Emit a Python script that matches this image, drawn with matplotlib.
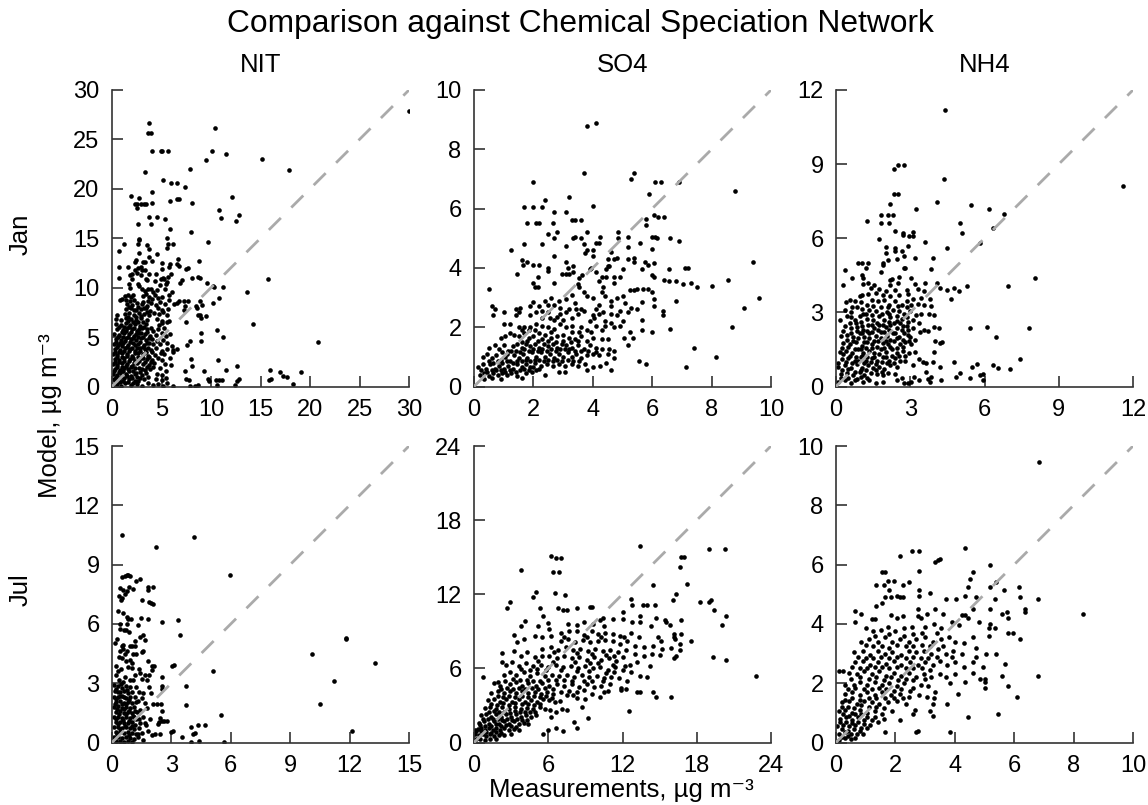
import numpy as np
import matplotlib
matplotlib.use('Agg')
from matplotlib import pyplot as plt

plt.rcParams['font.family'] = ['Liberation Sans', 'DejaVu Sans']

species = ['NIT', 'SO4', 'NH4']
months = ['Jan', 'Jul']
limits = [[30, 10, 12], [15, 24, 10]]
steps = [[5, 2, 3], [3, 6, 2]]

nit_jan = [(30.0,27.9),(3.7,26.7),(3.6,25.6),(3.9,25.6),(10.4,26.2),(4.0,23.8),(4.9,23.8),(5.1,23.8),(5.7,23.8),(10.1,23.8),(11.5,23.5),(9.5,22.9),(15.2,23.0),(17.9,21.9),
(3.3,21.7),(7.9,22.0),(5.2,20.9),(6.0,20.6),(6.6,20.6),(7.4,20.2),(4.0,19.7),(1.9,19.3),(2.7,19.1),(2.3,18.5),(2.5,18.5),(2.9,18.5),(3.2,18.5),(3.4,18.5),(2.5,18.1),(4.0,18.6),(5.9,18.8),(6.6,19.0),(6.8,19.0),(8.1,18.6),(12.1,19.2),(10.8,17.9),(12.8,17.4),(11.0,17.0),(12.5,16.7),(3.7,17.2),(4.5,17.2),(5.4,16.9),(2.6,16.4),(3.9,16.4),(5.9,15.9),(8.0,15.6),
(2.7,14.9),(5.6,15.0),(2.7,14.8),(1.2,14.4),(3.5,14.3),(5.7,14.4),(6.2,14.4),(2.6,14.4),(5.6,14.0),(9.7,14.6),(3.7,13.9),(0.7,13.7),(2.7,13.5),(4.5,13.4),(3.7,13.1),(6.7,12.9),(8.8,12.7),(2.4,12.8),(2.3,12.6),(3.1,12.6),(3.3,12.6),(4.0,12.7),(5.0,12.5),(5.9,12.4),(6.6,12.4),(6.8,12.2),(0.7,12.1),(1.6,12.1),(2.9,12.1),(2.6,12.0),(5.8,12.1),(5.0,11.9),(7.5,11.9),(7.7,12.0),
(3.3,11.8),(2.3,11.8),(2.0,11.4),(1.8,11.3),(3.0,11.8),(2.9,11.3),(2.5,11.5),(4.4,11.4),(3.7,11.4),(6.0,11.4),(0.7,11.0),(8.1,11.0),(8.7,11.1),(8.9,11.0),(15.8,10.9),(5.7,11.1),(5.3,10.9),(4.3,10.7),(3.5,10.8),(7.1,10.8),(6.9,10.5),(9.6,10.5),(10.3,10.1),(11.2,10.1),(10.2,10.2),(13.6,9.6),(10.8,9.0),(10.2,8.4),(7.3,8.7),(7.7,8.7),(8.9,8.7),(9.1,8.2),(8.5,8.1),(8.6,7.9),(7.4,8.1),(7.3,7.7),(8.7,7.2),(8.9,7.2),(9.0,6.9),(9.5,7.1),(7.5,6.5),(14.2,6.3),(10.6,5.7),(9.0,5.4),(11.2,5.0),(7.9,4.6),(7.6,4.2),(9.0,4.6),(20.8,4.5),(6.6,3.8),(6.2,3.7),(8.0,2.8),(10.7,2.7),(12.6,2.1),(8.1,2.1),(7.4,1.6),(9.3,1.6),(11.5,1.7),(16.0,1.7),(17.0,1.5),(17.3,1.1),(17.7,1.0),(19.1,1.5),(16.1,.8),(15.9,.7),(18.3,.3),(12.8,.8),(12.6,.6),(12.4,.2),(11.1,.7),(10.5,.7),(10.8,.7),(10.6,.2),(9.7,.8),(9.8,.6),(7.5,.8),(7.8,.7),(7.9,.1),(8.4,.1),(8.7,.2),
(2.0,10.9),(2.6,10.4),(3.4,10.9),(4.9,10.9),(5.2,11.0),(5.6,10.6),(1.7,10.4),(1.8,10.0),(2.7,10.2),(3.0,9.9),(3.9,9.9),(4.8,10.3),(5.5,10.4),(3.3,9.7),(3.6,9.9),(4.1,9.6),(4.5,9.8),(5.4,9.9),(6.1,9.6),
(1.3,9.2),(1.6,9.3),(1.9,9.1),(2.1,9.3),(3.1,9.2),(3.4,9.4),(3.7,9.1),(4.3,9.3),(4.6,9.0),(5.0,9.1),(5.8,9.3),(.8,8.8),(1.0,8.9),(1.4,8.8),(1.8,8.7),(2.2,8.8),(3.1,8.6),(3.6,8.7),(4.0,8.9),(4.8,8.6),(5.8,8.8),(6.8,8.7),
(1.5,8.3),(2.0,8.2),(2.5,8.4),(3.0,8.3),(3.5,8.1),(3.9,8.4),(4.4,8.2),(5.4,8.3),(6.3,8.3),(6.6,8.4),(1.4,7.8),(1.9,7.9),(2.4,7.7),(2.9,7.8),(3.4,7.9),(3.8,7.6),(4.6,7.9),(5.0,7.7),(5.7,7.8),
(.5,7.2),(1.3,7.3),(1.7,7.4),(2.2,7.2),(2.7,7.4),(3.2,7.3),(3.7,7.2),(4.2,7.4),(4.7,7.3),(5.2,7.5),(5.6,7.2),(.4,6.8),(.9,6.7),(1.4,6.9),(1.9,6.8),(2.4,6.7),(2.9,6.9),(3.5,6.7),(4.5,6.8),(5.1,6.6),(5.8,6.6),
(.4,6.3),(.9,6.2),(1.4,6.4),(1.8,6.2),(2.3,6.3),(2.8,6.1),(3.4,6.3),(3.9,5.9),(4.7,6.2),(5.0,6.4),(5.6,6.5),(.5,5.8),(1.1,5.7),(1.5,5.9),(2.0,5.8),(2.5,5.6),(3.0,5.9),(3.5,5.8),(4.1,5.6),(4.6,5.8),(5.3,5.9),
(.2,5.3),(.7,5.2),(1.2,5.4),(1.7,5.3),(2.2,5.1),(2.7,5.4),(3.3,5.3),(3.8,5.1),(4.4,5.2),(5.0,5.4),(5.5,5.1),(5.9,5.3),(.4,4.8),(.9,4.7),(1.4,4.9),(1.9,4.8),(2.4,4.7),(2.9,4.9),(3.4,4.7),(4.0,4.8),(4.5,4.6),(5.2,4.7),
(.2,4.3),(.6,4.2),(1.1,4.4),(1.6,4.2),(2.1,4.4),(2.6,4.3),(3.2,4.2),(3.7,4.4),(4.8,4.3),(5.6,4.4),(6.1,4.1),(.3,3.8),(.8,3.7),(1.3,3.9),(1.8,3.8),(2.3,3.6),(2.8,3.9),(3.3,3.8),(3.9,3.7),(4.4,3.9),(5.1,3.6),(5.6,3.8),(6.2,3.5),
(.1,3.3),(.5,3.2),(1.0,3.4),(1.5,3.3),(2.0,3.1),(2.6,3.4),(3.1,3.3),(3.6,3.1),(4.3,3.2),(4.9,3.4),(5.3,3.3),(.3,2.8),(.7,2.7),(1.2,2.9),(1.8,2.8),(2.3,2.6),(2.9,2.9),(3.5,2.8),(4.0,2.7),(4.6,2.9),(5.0,2.7),(5.9,2.9),
(.1,2.3),(.5,2.2),(1.0,2.4),(1.5,2.3),(2.0,2.1),(2.5,2.4),(3.1,2.3),(3.7,2.2),(4.2,2.4),(5.4,2.3),(6.0,2.2),(.3,1.8),(.8,1.7),(1.2,1.9),(1.6,1.8),(2.1,1.6),(2.7,1.9),(3.3,1.7),(3.8,1.8),(4.8,1.9),(5.5,1.6),
(.1,1.3),(.5,1.2),(.9,1.4),(1.4,1.3),(1.9,1.1),(2.4,1.4),(3.0,1.2),(4.5,1.3),(5.0,1.2),(.2,.8),(.7,.7),(1.2,.9),(1.7,.8),(2.3,.6),(2.8,.9),(4.4,.8),(5.0,.7),(5.5,.9),(.1,.2),(.5,.3),(.9,.1),(1.3,.4),(1.9,.2),(2.5,.3),(3.0,.1),(3.6,.4),(4.1,.2),(4.6,.3),(5.2,.1),(5.6,.4),(6.2,.1)]
nit_jan_core = [(.35,.55),(.8,.45),(1.1,.6),(1.6,.5),(2.1,.35),(2.6,.55),(.4,1.0),(.95,.95),(1.5,1.05),(2.0,.85),(2.5,1.0),(3.2,.8),(.25,1.55),(.7,1.5),(1.15,1.6),(1.75,1.55),(2.3,1.25),(2.8,1.5),(3.4,1.35),(3.6,1.0),(.55,1.95),(1.0,2.0),(1.4,2.05),(1.9,2.0),(2.35,1.9),(3.0,1.8),(3.5,2.0),(4.1,2.0),(.3,2.5),(.75,2.45),(1.25,2.55),(1.75,2.55),(2.25,2.35),(2.75,2.6),(3.35,2.5),(3.9,2.5),(.5,2.95),(1.0,2.95),(1.5,3.05),(2.1,2.85),(2.6,3.0),(3.1,2.85),(3.75,2.95),(.3,3.5),(.75,3.45),(1.25,3.6),(1.7,3.55),(2.3,3.35),(2.8,3.55),(3.4,3.45),(4.0,3.45),(.55,3.95),(1.05,4.05),(1.5,4.0),(2.05,3.9),(2.55,3.85),(3.1,3.95),(3.6,3.9),(.4,4.5),(.85,4.45),(1.35,4.6),(1.85,4.5),(2.3,4.2),(2.85,4.55),(3.5,4.45),(4.1,4.3),(.65,5.0),(1.15,5.0),(1.65,5.05),(2.15,4.95),(2.65,5.0),(3.15,5.05),(3.7,4.95),(1.0,5.5),(1.45,5.6),(1.95,5.5),(2.45,5.3),(2.95,5.45),(3.55,5.55),(.75,6.0),(1.25,6.05),(1.75,6.0),(2.25,5.9),(2.75,5.85),(3.25,6.0),(1.6,6.6),(2.15,6.5),(2.65,6.5),(3.15,6.55),(1.6,7.05),(2.45,7.05),(2.95,7.15),(3.5,7.5),(2.2,7.7),(2.65,8.0),(3.25,7.95),(1.75,8.05)]

so4_jan = [(4.1,8.9),(3.8,8.8),(3.7,7.2),(5.3,7.0),(5.4,7.2),(2.0,6.9),(6.1,6.9),(6.3,6.9),(6.9,6.9),(8.8,6.6),(2.4,6.3),(3.2,6.4),(5.9,6.5),(1.7,6.05),(2.0,6.05),(2.3,6.05),(4.0,6.1),(2.7,5.9),(3.1,5.9),(6.05,5.8),(6.2,5.7),(6.4,5.7),(3.3,5.6),(3.4,5.6),(3.6,5.6),(5.8,5.65),(1.8,5.5),(2.1,5.5),(2.2,5.5),(2.65,5.5),(5.8,5.45),(2.5,5.15),(2.8,5.2),(3.8,5.2),(4.85,5.2),(2.7,5.0),(3.35,5.0),(3.4,5.05),(3.6,5.0),(4.25,5.05),(4.85,5.0),(5.2,5.05),(6.0,5.05),(6.1,5.05),(6.15,5.0),(6.6,5.0),(6.9,4.9),(1.7,4.8),(2.3,4.8),(3.1,4.75),(3.7,4.8),(4.1,4.85),(4.2,4.85),(5.6,4.85),(5.2,4.7),(6.0,4.65),(1.25,4.6),(3.8,4.6),(3.75,4.5),(4.0,4.6),(4.0,4.4),(4.6,4.55),(2.7,4.4),(4.8,4.35),(4.7,4.3),(4.5,4.3),(5.2,4.3),(5.4,4.35),(5.4,4.2),(6.05,4.15),(5.75,4.2),(5.85,4.1),(9.4,4.2),(1.6,4.25),(1.8,4.2),(1.65,4.1),(2.0,4.1),(2.2,4.1),(3.1,4.2),(3.35,4.05),(3.15,4.0),(2.5,4.0),(2.5,3.9),(4.5,4.05),(4.45,3.95),(4.55,4.05),(5.65,3.95),(5.0,3.95),(6.55,3.95),(7.1,4.0),(7.2,4.0),(1.45,3.8),(2.95,3.8),(3.1,3.8),(3.2,3.8),(3.35,3.85),(3.95,4.0),(4.1,3.85),(3.9,3.95),(2.15,3.7),(3.65,3.75),(3.55,3.65),(4.3,3.7),(4.45,3.7),(4.7,3.7),(4.9,3.7),(6.0,3.75),(6.05,3.7),(6.4,3.6),(6.55,3.55),(6.8,3.55),(7.05,3.45),(7.3,3.5),(7.5,3.35),(8.55,3.6),(8.0,3.4),(0.5,3.3),(2.0,3.5),(2.05,3.35),(2.15,3.35),(2.7,3.5),(3.5,3.45),(3.55,3.35),(4.2,3.55),(4.35,3.35),(4.7,3.5),(5.25,3.25),(5.4,3.25),(5.5,3.3),(5.7,3.3),(5.85,3.3),(6.0,3.2),(6.05,2.95),(6.05,2.7),(6.8,2.9),(9.6,3.0),(9.1,2.65),(8.7,2.0),(6.35,2.55),(6.35,2.4),(6.6,1.95),(6.0,1.85),(7.4,1.3),(8.15,1.0),(7.15,.65),(5.55,.85),(5.8,.75),(5.65,2.85),(5.65,2.25),(5.65,1.9),(5.35,1.65),(5.05,1.65),(5.2,1.4),(5.25,1.85),(.6,2.7),(.7,2.6),(.65,2.4),(1.0,2.5),(1.4,2.6),(1.55,2.65),(1.5,2.5),(1.4,2.4),
(1.9,2.7),(2.0,2.85),(2.2,2.7),(2.4,2.9),(2.6,3.0),(2.7,2.75),(2.9,2.65),(3.1,2.95),(3.3,3.1),(3.4,2.8),(3.6,2.6),(3.8,3.05),(4.0,3.0),(4.2,2.75),(4.4,3.05),(4.6,2.9),(4.8,3.0),(5.0,3.05),(5.1,2.8),(5.3,2.65),(5.5,2.6),(3.7,3.2),(4.3,3.2),(4.1,2.6),(4.9,2.55),
(1.9,2.4),(2.1,2.5),(2.3,2.3),(2.5,2.5),(2.7,2.25),(2.9,2.45),(3.1,2.5),(3.3,2.3),(3.5,2.45),(3.7,2.55),(3.9,2.2),(4.0,2.4),(4.2,2.45),(4.4,2.2),(4.6,2.45),(4.8,2.4),(5.0,2.2),(5.2,2.5),(1.0,2.1),(1.2,2.1),(1.5,2.0),(1.7,2.0),(1.9,2.0),(2.1,2.1),(2.3,2.05),(2.5,2.0),(2.7,1.95),(2.9,2.1),(3.1,2.0),(3.3,2.05),(3.6,2.0),(3.8,1.9),(4.1,2.05),(4.4,2.05),(4.6,2.15),(4.7,2.0),(4.9,2.05),
(.9,1.65),(1.05,1.7),(1.2,1.8),(1.35,1.75),(1.5,1.7),(1.7,1.8),(1.85,1.65),(2.0,1.7),(2.2,1.8),(2.4,1.75),(2.6,1.65),(2.8,1.7),(3.0,1.75),(3.2,1.65),(3.4,1.6),(3.6,1.7),(3.8,1.55),(4.0,1.65),(4.3,1.6),(4.5,1.6),(.5,1.3),(.7,1.4),(.85,1.25),(1.0,1.4),(1.15,1.2),(1.3,1.35),(1.45,1.45),(1.6,1.3),(1.75,1.45),(1.9,1.35),(2.05,1.45),(2.2,1.3),(2.35,1.45),(2.5,1.35),(2.65,1.45),(2.8,1.3),(2.95,1.45),(3.1,1.4),(3.3,1.3),(3.5,1.4),(3.7,1.25),(3.9,1.4),(4.1,1.3),(4.3,1.25),(4.55,1.25),(4.7,1.2),
(.3,1.0),(.45,1.1),(.6,.95),(.75,1.05),(.9,.9),(1.05,1.0),(1.2,.85),(1.35,1.05),(1.5,.95),(1.65,1.1),(1.8,.95),(1.95,1.15),(2.1,1.0),(2.25,1.15),(2.4,1.0),(2.55,1.1),(2.7,.95),(2.85,1.1),(3.0,1.0),(3.15,1.15),(3.3,1.0),(3.45,1.1),(3.6,.95),(3.8,1.05),(4.0,1.1),(4.2,1.05),(4.5,1.1),(4.7,.95),
(.15,.65),(.3,.75),(.4,.6),(.55,.75),(.7,.6),(.85,.7),(1.0,.6),(1.15,.7),(1.3,.6),(1.45,.75),(1.6,.65),(1.75,.75),(1.9,.65),(2.05,.8),(2.25,.7),(2.45,.75),(2.65,.7),(2.85,.75),(3.05,.7),(3.3,.75),(3.5,.7),(3.75,.75),(4.0,.65),(4.25,.7),(4.45,.8),(4.6,.55),
(.2,.4),(.35,.45),(.5,.35),(.65,.45),(.8,.4),(.95,.45),(1.1,.4),(1.25,.45),(1.45,.35),(1.6,.3),(1.75,.45),(1.95,.5),(2.1,.55),(2.4,.4),(2.85,.5),(3.05,.5),(3.8,.55),(.35,.25),(.6,.3),(.9,.25)]
so4_jan_core = [(.25,.55),(.45,.5),(.6,.55),(.75,.55),(.9,.55),(1.05,.5),(1.2,.55),(1.4,.5),(1.55,.55),(1.7,.6),(1.85,.55),(2.0,.65),(2.2,.6),(.5,.85),(.65,.8),(.8,.85),(.95,.8),(1.1,.85),(1.3,.8),(1.45,.85),(1.6,.85),(1.75,.9),(1.9,.85),(2.05,.9),(2.2,.9),(2.35,.85),(2.5,.9),(2.65,.85),(2.8,.9),(2.95,.85),(3.15,.9),(3.35,.85),(3.55,.85),(.95,1.15),(1.1,1.1),(1.25,1.2),(1.4,1.2),(1.55,1.15),(1.7,1.25),(1.85,1.2),(2.0,1.25),(2.15,1.2),(2.3,1.25),(2.45,1.2),(2.6,1.25),(2.75,1.2),(2.9,1.25),(3.05,1.25),(3.2,1.25),(3.4,1.2),(3.6,1.2),(3.85,1.2),(4.1,1.15),(1.6,1.5),(1.8,1.55),(2.15,1.55),(2.3,1.6),(2.5,1.55),(2.75,1.5),(3.0,1.55),(3.25,1.5),(3.5,1.55),(2.55,2.3),(2.8,2.35),(3.0,2.25),(3.2,2.6),(3.45,2.6),(2.3,2.55),(2.5,2.75),(2.85,2.9),(4.05,2.3),(4.35,2.5),(4.6,2.7),(3.3,1.85),(3.55,1.85),(3.95,1.85),(4.3,1.9),(1.6,1.9),(1.85,1.9),(2.05,1.9),(2.6,1.85)]

nh4_jan = [(4.4,11.2),(11.6,8.1),(4.35,8.4),(2.75,8.95),(2.5,8.95),(2.35,8.8),(2.35,7.8),(2.5,7.8),(2.2,7.4),(4.1,7.45),(3.25,7.2),(5.45,7.35),(6.2,7.2),(6.8,7.0),(1.8,6.95),(2.1,6.95),(2.3,6.95),(1.25,6.7),(1.8,6.6),(2.15,6.6),(5.0,6.6),(6.35,6.4),(2.4,6.3),(2.7,6.2),(2.7,6.15),(2.95,6.1),(3.1,6.25),(3.1,6.1),(5.1,6.2),(1.75,5.95),(3.6,5.85),(2.9,5.7),(5.8,5.8),(2.0,5.65),(2.0,5.4),(2.4,5.6),(2.4,5.5),(2.65,5.5),(2.75,5.3),(4.5,5.6),(3.2,5.2),(3.9,5.2),(2.45,5.15),(2.1,5.1),(1.9,5.0),(1.9,4.9),(.9,5.0),(1.05,5.0),(1.3,5.0),(1.2,4.8),(1.8,4.65),(2.75,4.8),(2.8,4.8),(3.85,4.75),(.35,4.7),(.65,4.4),(1.05,4.5),(1.1,4.4),(8.05,4.4),(2.2,4.3),(2.25,4.35),(2.55,4.45),(3.05,4.4),(.3,4.1),(1.1,4.15),(1.3,4.2),(1.55,4.1),(2.2,4.1),(2.5,4.2),(3.2,4.15),(3.6,4.2),(4.1,4.2),(4.2,4.0),(4.5,3.9),(4.75,4.0),(4.95,3.85),(5.3,4.05),(6.95,4.05),(4.65,3.55),(5.4,2.35),(6.1,2.4),(7.8,2.35),(6.45,2.0),(7.45,1.1),(4.75,1.0),(6.35,.85),(6.55,.75),(7.05,.7),(5.7,.9),(5.5,.8),(5.0,.55),(4.85,.4),(5.4,.35),(5.8,.45),(5.95,.5),(5.95,.25),(4.2,.8),(3.9,1.0),(3.65,.95),(3.5,1.0),(3.35,1.1),(4.25,.25),(3.85,.4),(3.8,.2),(3.65,.6),(3.7,.3),(3.35,.25),(3.15,.4),(3.1,.85),(2.8,1.05),(3.95,1.4),(4.2,1.75),(4.3,1.8),(4.0,1.85),(4.15,2.35),(3.95,2.4),(3.7,2.25),(3.55,2.3),(3.85,3.25),(3.8,3.55),(3.55,3.3),(3.95,2.9),(3.75,2.95),
(1.4,4.0),(1.75,3.95),(2.0,3.85),(2.4,3.9),(2.85,3.9),(3.3,3.95),(3.55,3.85),(.95,3.65),(1.05,3.7),(1.3,3.75),(1.6,3.8),(1.9,3.7),(2.2,3.65),(2.55,3.7),(2.9,3.75),(3.1,3.55),(3.45,3.6),(.4,3.4),(.55,3.5),(.75,3.45),(1.0,3.4),(1.25,3.3),(1.45,3.5),(1.7,3.45),(1.95,3.5),(2.15,3.3),(2.4,3.45),(2.65,3.3),(2.85,3.45),(3.05,3.3),(3.3,3.35),
(.35,3.1),(.6,3.0),(.85,3.2),(1.1,2.95),(1.35,3.1),(1.6,3.05),(1.8,3.2),(2.05,3.0),(2.3,3.1),(2.55,3.05),(2.75,2.95),(3.0,3.05),(3.25,2.9),(3.45,2.95),(.15,2.7),(.45,2.85),(.75,2.7),(1.0,2.6),(1.25,2.75),(1.5,2.7),(1.75,2.85),(1.95,2.7),(2.2,2.8),(2.45,2.65),(2.65,2.75),(2.9,2.6),(3.1,2.7),(3.35,2.55),
(.35,2.45),(.6,2.35),(.85,2.4),(1.1,2.3),(1.3,2.5),(1.55,2.35),(1.75,2.5),(2.0,2.4),(2.2,2.5),(2.45,2.35),(2.7,2.45),(2.9,2.3),(3.1,2.35),(3.4,2.2),(.2,2.05),(.45,2.1),(.7,2.0),(.95,2.15),(1.15,2.0),(1.35,2.15),(1.6,2.05),(1.8,2.2),(2.05,2.05),(2.3,2.15),(2.55,2.0),(2.75,2.15),(3.0,2.0),(3.2,1.9),
(.3,1.75),(.55,1.7),(.8,1.8),(1.05,1.65),(1.25,1.8),(1.45,1.7),(1.7,1.85),(1.9,1.75),(2.1,1.7),(2.35,1.85),(2.6,1.7),(2.8,1.8),(3.05,1.7),(.15,1.4),(.4,1.45),(.65,1.35),(.9,1.5),(1.1,1.35),(1.35,1.45),(1.55,1.35),(1.8,1.5),(2.0,1.4),(2.25,1.5),(2.45,1.35),(2.7,1.45),(2.95,1.35),(3.2,1.4),
(.25,1.1),(.5,1.15),(.75,1.05),(1.0,1.2),(1.2,1.05),(1.45,1.15),(1.65,1.05),(1.9,1.2),(2.15,1.05),(2.4,1.15),(2.6,1.05),(.1,.8),(.35,.85),(.6,.75),(.85,.9),(1.05,.75),(1.3,.85),(1.5,.75),(1.75,.8),(1.95,.7),(2.2,.85),(2.45,.8),(.2,.5),(.45,.55),(.7,.45),(.95,.6),(1.15,.45),(1.4,.55),(1.65,.5),(1.9,.45),(2.1,.55),(2.4,.5),(2.65,.35),(.1,.2),(.35,.25),(.6,.15),(.85,.3),(1.1,.2),(1.35,.25),(1.6,.15),(1.9,.2),(2.45,.25),(2.75,.15),(2.9,.15),(3.05,.2)]
nh4_jan_core = [(.2,.35),(.5,.35),(.75,.25),(1.0,.4),(1.25,.35),(.25,.65),(.5,.7),(.75,.6),(1.0,.65),(1.2,.65),(1.6,.65),(1.85,.6),(.1,.95),(.4,1.0),(.65,.95),(.9,1.05),(1.15,.95),(1.4,1.0),(1.6,.9),(1.85,1.0),(2.05,.95),(2.35,.95),(.3,1.3),(.55,1.25),(.8,1.2),(1.05,1.25),(1.25,1.2),(1.55,1.2),(1.75,1.3),(2.0,1.2),(2.25,1.25),(2.55,1.25),(2.8,1.25),(.25,1.55),(.5,1.6),(.75,1.5),(1.0,1.5),(1.2,1.55),(1.45,1.55),(1.65,1.6),(1.95,1.55),(2.2,1.6),(2.45,1.55),(2.7,1.6),(.45,1.9),(.7,1.85),(.9,1.95),(1.15,1.8),(1.35,1.95),(1.55,1.85),(1.8,1.95),(2.0,1.85),(2.2,1.9),(2.45,1.95),(2.7,1.9),(2.95,1.85),(.3,2.25),(.6,2.15),(.85,2.25),(1.05,2.15),(1.25,2.25),(1.45,2.2),(1.7,2.3),(1.95,2.2),(2.15,2.3),(2.4,2.15),(2.65,2.3),(2.9,2.1),(.55,2.55),(.8,2.55),(1.05,2.45),(1.45,2.5),(1.65,2.55),(1.9,2.5),(2.15,2.6),(2.35,2.55),(2.6,2.55),(2.85,2.45),(.6,2.8),(.95,2.85),(1.2,2.95),(1.45,2.9),(1.85,2.95),(2.15,2.95),(2.45,2.85),(2.85,2.8),(.65,3.2),(1.05,3.15),(1.5,3.25),(2.1,3.2),(2.5,3.25),(2.85,3.2)]

nit_jul = [(.5,10.5),(2.2,9.9),(4.15,10.4),(5.95,8.45),(11.8,5.3),(11.8,5.25),(10.1,4.5),(13.3,4.0),(11.2,3.1),(10.5,1.95),(12.1,.6),(5.5,1.4),(5.1,3.6),(3.35,6.2),(3.45,5.45),(2.5,6.1),(3.05,3.85),(3.15,3.9),(3.75,2.85),(3.75,1.9),(2.55,3.3),(2.5,2.85),(2.5,2.7),(2.45,1.95),(2.25,1.95),(2.05,1.95),(2.5,1.6),(2.65,1.1),(2.8,1.1),(2.5,1.1),(2.4,1.25),(2.35,1.05),(2.3,.95),(4.7,.9),(4.35,.9),(4.0,.8),(4.2,.5),(4.1,.45),(4.4,.1),(4.0,.05),(5.65,.05),(3.55,.3),(3.1,.6),(3.0,.55),
(.5,8.35),(.65,8.4),(.75,8.45),(.8,8.45),(.9,8.4),(1.4,8.25),(1.2,8.15),(1.8,7.85),(1.8,7.7),(2.05,7.85),(.4,7.8),(.55,7.7),(.85,7.85),(.75,7.65),(.65,7.5),(1.05,7.75),(.35,7.4),(.45,7.2),(.5,7.3),(1.5,7.2),(1.85,7.1),(1.95,7.05),(2.05,7.0),(.3,6.65),(.55,6.55),(.75,6.35),(.95,6.25),(.8,6.25),(1.45,6.3),(1.8,6.25),(1.3,5.95),(.75,6.0),(.4,6.0),(.4,5.75),(.6,5.7),(.7,5.7),(.85,5.6),(1.55,5.45),(1.4,5.35),(1.65,5.2),(1.15,5.15),(.15,5.05),(.25,5.25),(.5,4.9),(.55,4.95),(.9,4.9),(1.0,4.9),(1.15,4.9),(1.5,4.6),(1.55,4.65),(1.8,4.1),(2.0,3.85),(2.1,3.85),(2.0,3.65),(.4,4.65),(.55,4.75),(.75,4.65),(1.05,4.5),(1.2,4.5),(.35,4.35),(.5,4.3),(.65,4.5),(.9,4.15),(1.0,4.0),(.7,4.1),(.2,3.85),(.3,3.6),(.45,3.7),(.8,3.8),(1.0,3.75),(1.35,3.7),(1.4,3.5),(1.15,3.4),(1.65,3.4),(1.85,3.4),(1.5,3.2),(1.75,3.15),(.2,3.4),(.65,3.3),(.9,3.15),(1.05,3.15),(.35,3.15),(.55,3.05),(1.85,2.8),(1.95,2.5),(1.2,2.8),(1.35,2.55),(1.55,2.5),(1.15,2.3),(1.5,2.25),(1.65,2.0),(1.9,1.2),(1.65,1.0),(1.7,.9),(1.4,1.0),(1.35,.75),(2.0,.4),(1.8,.6),(1.55,.15),(2.15,.45),(2.4,.45),
(.1,2.9),(.3,2.85),(.5,2.75),(.7,2.85),(.9,2.8),(.15,2.6),(.4,2.55),(.6,2.6),(.8,2.5),(1.0,2.55),(.1,2.3),(.3,2.3),(.5,2.35),(.7,2.25),(.9,2.3),(.2,2.05),(.4,2.1),(.6,2.0),(.8,2.05),(1.0,2.0),(1.2,2.05),(.1,1.8),(.3,1.85),(.5,1.75),(.7,1.8),(.9,1.75),(1.1,1.8),(.2,1.55),(.4,1.6),(.6,1.5),(.8,1.55),(1.0,1.5),(1.25,1.55),(.1,1.3),(.3,1.3),(.5,1.25),(.7,1.3),(.9,1.25),(1.1,1.3),(.2,1.05),(.4,1.05),(.6,1.0),(.8,1.0),(1.0,1.05),(1.2,1.2),(.1,.8),(.3,.8),(.5,.75),(.7,.8),(.9,.75),(1.1,.7),(.2,.55),(.4,.55),(.6,.5),(.8,.55),(1.0,.5),(1.2,.45),(1.5,.5),(.1,.3),(.3,.3),(.5,.25),(.7,.3),(.9,.25),(1.1,.2),(1.3,.3),(.2,.08),(.4,.1),(.6,.05),(.8,.1),(1.0,.05)]
nit_jul_core = [(.2,2.7),(.45,2.95),(.6,2.3),(.3,2.55),(.75,2.65),(.2,2.2),(.4,2.35),(.85,2.15),(.15,1.95),(.5,1.95),(.7,1.95),(.25,1.7),(.6,1.7),(.85,1.6),(.35,1.45),(.7,1.45),(1.05,1.35),(.2,1.2),(.55,1.15),(.85,1.1),(.3,.95),(.65,.85),(1.0,.85),(.4,.7),(.25,.45),(.85,.4),(1.15,.9),(1.35,1.2),(1.55,1.3),(1.15,1.6),(1.4,1.65),(1.3,2.1),(1.75,1.75),(1.3,.45)]

so4_jul = [(13.4,15.9),(18.95,15.65),(20.3,15.65),(16.7,15.0),(16.95,15.0),(16.65,14.2),(17.25,12.8),(14.45,12.75),(16.3,12.0),(16.1,11.5),(18.3,11.35),(18.95,11.4),(19.15,11.5),(19.4,10.7),(20.4,10.2),(20.05,9.5),(19.3,6.9),(20.4,6.65),(22.75,5.4),(6.25,15.1),(6.65,14.95),(7.05,14.95),(6.4,13.8),(6.9,13.8),(3.8,14.0),(6.55,12.1),(7.35,11.95),(5.05,12.15),(4.75,11.8),(2.9,11.35),(2.7,10.9),(5.3,10.9),(6.75,10.9),(7.2,10.75),(7.5,10.75),(8.35,10.9),(9.35,10.95),(9.55,10.95),(12.7,11.65),(12.8,11.15),(13.65,11.15),(14.0,11.15),(14.6,11.15),(12.05,10.6),(13.4,10.25),(14.7,10.1),(10.4,10.1),(11.2,10.0),(12.0,10.0),(12.8,9.75),(13.4,9.75),(15.4,9.95),(15.5,9.75),(16.75,9.95),(15.85,9.55),(17.55,8.2),(16.7,8.8),(16.15,8.8),(16.2,8.55),(16.25,8.35),(16.65,8.0),(16.65,7.5),(15.95,7.65),(16.3,7.0),(16.2,6.85),(.7,5.3),(5.6,10.2),(5.95,9.7),(6.1,9.2),(4.15,9.85),(3.8,9.45),(5.15,9.4),(3.2,8.7),(3.5,8.15),(4.0,8.4),(4.9,8.6),(5.5,8.5),(2.25,7.25),(2.3,6.5),(1.95,4.9),(2.5,4.95),
(14.45,4.1),(14.7,3.7),(15.95,3.7),(13.2,4.1),(13.4,4.1),(12.25,4.3),(11.85,4.25),(11.85,4.45),(12.5,2.55),(10.85,4.2),(10.2,3.7),(10.5,4.1),(9.5,3.9),(8.85,4.25),(8.3,4.1),(8.0,3.85),(8.75,2.85),(9.2,1.95),(8.05,1.65),(8.35,1.2),(7.2,.95),(6.6,1.15),(5.95,1.0),(5.6,.7),(7.5,2.6),(7.1,2.75),(6.65,2.5),(6.25,2.1),(6.15,2.6),(6.95,3.35),(6.55,3.3),(7.5,3.85),
(7.6,9.6),(8.3,9.5),(8.9,9.75),(9.6,9.6),(10.2,9.9),(10.5,9.4),(6.2,8.6),(7.0,8.9),(7.7,9.0),(8.3,9.0),(8.9,8.7),(9.5,9.0),(10.0,8.8),(10.6,8.9),(11.2,8.8),(11.8,8.6),(12.7,8.9),(13.3,8.5),(14.3,9.4),(14.9,8.5),(15.1,8.2),(7.0,8.2),(7.6,8.4),(8.2,8.1),(8.8,8.3),(9.4,8.1),(10.0,8.2),(10.6,8.3),(11.2,8.2),(11.8,8.0),(12.4,8.2),(13.0,7.8),(13.7,7.7),(14.5,7.8),(15.2,7.6),
(5.5,7.6),(6.2,7.7),(6.8,7.5),(7.4,7.7),(8.0,7.5),(8.6,7.6),(9.2,7.4),(9.8,7.6),(10.4,7.4),(11.0,7.5),(11.6,7.3),(12.3,7.5),(13.0,7.2),(13.7,7.0),(14.4,7.2),(15.0,7.1),(3.2,7.4),(3.8,7.0),(4.3,7.3),(4.9,6.9),(5.5,7.0),(6.1,7.0),(6.7,6.8),(7.3,7.0),(7.9,6.8),(8.5,6.9),(9.1,6.7),(9.7,6.9),(10.3,6.7),(10.9,6.8),(11.5,6.6),(12.0,6.9),(12.6,6.3),(13.2,6.5),(14.2,6.2),
(2.6,6.3),(3.1,6.5),(3.6,6.2),(4.2,6.4),(4.8,6.2),(5.4,6.3),(6.0,6.1),(6.6,6.3),(7.2,6.1),(7.8,6.2),(8.4,6.0),(9.0,6.2),(9.6,6.0),(10.2,6.1),(10.8,5.9),(11.4,6.1),(12.0,5.9),(12.7,5.7),(13.4,5.4),(14.0,5.3),(2.4,5.5),(2.9,5.7),(3.4,5.5),(4.0,5.7),(4.5,5.4),(5.1,5.6),(5.7,5.4),(6.3,5.5),(6.9,5.4),(7.5,5.5),(8.1,5.3),(8.7,5.5),(9.3,5.3),(9.9,5.4),(10.5,5.2),(11.1,5.3),(11.7,5.2),(12.4,5.0),
(1.6,4.8),(2.1,4.6),(2.9,4.7),(3.4,4.9),(3.9,4.6),(4.4,4.8),(5.0,4.6),(5.5,4.8),(6.1,4.6),(6.7,4.7),(7.3,4.6),(7.9,4.7),(8.5,4.5),(9.1,4.7),(9.7,4.5),(10.3,4.6),(11.0,4.7),(1.4,4.0),(1.9,4.2),(2.4,4.0),(2.9,4.2),(3.4,4.0),(3.9,4.2),(4.4,4.0),(4.9,4.1),(5.4,3.9),(5.9,4.1),(6.4,3.9),(7.0,4.1),(7.7,4.2),(8.3,3.6),(9.0,3.5),
(1.1,3.4),(1.6,3.5),(2.1,3.3),(2.6,3.5),(3.1,3.3),(3.6,3.5),(4.1,3.3),(4.6,3.4),(5.1,3.3),(5.6,3.5),(6.1,3.4),(.9,2.8),(1.3,2.9),(1.8,2.7),(2.3,2.9),(2.8,2.7),(3.3,2.9),(3.8,2.7),(4.3,2.8),(4.8,2.7),(5.3,2.9),(5.7,2.7),
(.6,2.2),(1.0,2.3),(1.4,2.1),(1.8,2.3),(2.2,2.1),(2.6,2.3),(3.0,2.1),(3.4,2.3),(3.8,2.1),(4.2,2.2),(4.6,2.1),(5.0,2.2),(.4,1.6),(.8,1.7),(1.2,1.5),(1.6,1.7),(2.0,1.5),(2.4,1.7),(2.8,1.5),(3.2,1.7),(3.6,1.5),(4.0,1.6),(4.4,1.5),(.3,1.1),(.6,1.2),(.9,1.0),(1.2,1.2),(1.5,1.0),(1.8,1.2),(2.1,1.0),(2.4,1.2),(2.8,1.0),(3.2,1.1),(3.6,1.0),(.1,.7),(.4,.6),(.7,.7),(1.0,.5),(1.3,.7),(1.6,.5),(2.0,.6),(2.4,.6),(3.0,.7),(.15,.3),(.5,.25),(.9,.2),(1.3,.25),(1.8,.3),(.1,1.0),(.2,.95)]
so4_jul_core = [(.6,.95),(1.0,.85),(1.4,.8),(1.8,.85),(2.2,.8),(.5,1.4),(.85,1.35),(1.4,1.3),(1.8,1.5),(2.2,1.35),(2.6,1.4),(3.0,1.3),(3.4,1.25),(.7,1.9),(1.1,1.9),(1.5,1.9),(1.9,1.9),(2.3,1.85),(2.7,1.9),(3.1,1.85),(3.5,1.9),(3.9,1.85),(4.3,1.85),(1.2,2.5),(1.6,2.55),(2.0,2.5),(2.4,2.5),(2.9,2.4),(3.3,2.55),(3.7,2.45),(4.1,2.5),(4.5,2.5),(4.9,2.45),(1.4,3.1),(1.85,3.05),(2.35,3.2),(2.85,3.05),(3.35,3.2),(3.85,3.1),(4.35,3.1),(4.85,3.05),(5.35,3.15),(1.9,3.75),(2.35,3.65),(2.85,3.75),(3.35,3.65),(3.85,3.8),(4.35,3.7),(4.85,3.75),(5.35,3.65),(5.85,3.75),(6.3,3.6),(2.15,4.35),(2.65,4.4),(3.15,4.35),(3.65,4.45),(4.15,4.35),(4.65,4.4),(5.2,4.35),(5.75,4.45),(6.35,4.3),(3.15,5.1),(3.7,5.05),(4.25,5.05),(4.8,5.0),(5.35,5.0),(6.0,5.05),(6.6,5.05),(7.3,5.05),(7.9,5.0),(8.9,5.0),(9.5,4.95),(10.4,4.95),(3.8,5.95),(4.5,5.85),(5.1,5.95),(5.8,5.85),(7.0,5.85),(8.3,5.75),(9.3,5.8),(10.7,5.6),(11.3,5.7),(5.2,6.6),(6.4,6.55),(8.2,6.5),(9.4,6.4),(10.0,6.45),(11.2,6.3),(12.2,6.2),(6.5,7.3),(8.3,7.25),(9.5,7.2),(10.7,7.1),(11.3,7.0),(7.3,8.55),(9.1,8.5),(10.3,8.55),(12.1,8.5)]

nh4_jul = [(6.85,9.45),(8.3,4.35),(4.35,6.55),(2.15,6.3),(2.55,6.45),(2.8,6.45),(3.35,6.1),(3.45,6.15),(3.5,6.2),(5.2,6.0),(1.55,5.75),(1.65,5.75),(2.8,5.8),(4.6,5.75),(4.5,5.5),(1.75,5.45),(1.95,5.45),(2.45,5.4),(1.35,5.3),(1.6,5.3),(1.8,5.15),(2.25,5.3),(2.8,5.15),(2.8,4.95),(3.15,5.05),(4.45,5.25),(5.2,5.25),(5.4,5.4),(5.65,5.15),(6.15,5.25),(1.65,4.9),(1.85,4.9),(2.05,4.95),(2.15,4.9),(2.25,4.9),(3.7,4.85),(4.05,4.85),(4.35,4.95),(4.7,4.9),(5.35,4.85),(6.2,4.9),(6.8,4.85),(1.55,4.7),(1.35,4.6),(.65,4.45),(.85,4.35),(.65,4.05),(1.2,4.15),(1.3,4.15),(1.85,4.3),(2.05,4.2),(2.25,4.25),(2.75,4.5),(2.75,4.25),(2.85,4.2),(3.05,4.35),(3.35,4.5),(3.6,4.35),(4.6,4.5),(5.2,4.5),(6.35,4.5),(6.35,4.4),(5.6,4.35),(5.75,4.4),(5.8,4.2),(4.25,4.3),(4.35,4.3),(4.45,4.2),(4.8,4.05),(5.2,4.0),(5.15,3.85),(5.35,3.85),(5.8,3.7),(5.95,3.7),(6.2,3.5),(5.15,3.6),(4.6,3.55),(5.05,3.0),(5.4,3.0),(5.7,2.65),(5.6,2.25),(5.8,1.9),(4.95,2.55),(4.85,2.15),(5.0,2.15),(5.0,2.05),(5.0,1.85),(6.8,2.25),(6.1,1.55),(5.45,.95),(4.45,.85),(3.85,.35),(2.7,.35),(2.75,.4),(1.65,.35),(2.15,.75),(2.6,.95),(2.65,1.1),(3.15,1.05),(3.25,.9),(3.75,1.3),(4.1,1.65),(3.25,1.3),(3.3,1.5),(3.35,1.7),(3.85,2.0),(4.35,2.05),(4.6,2.35),(4.6,2.7),(4.7,3.2),(4.7,2.9),(.1,2.4),(.25,2.4),(.3,1.95),
(1.0,3.85),(1.25,3.75),(1.5,3.8),(1.75,3.9),(2.0,3.75),(2.3,3.85),(2.55,3.9),(3.0,3.9),(3.3,4.0),(3.55,3.85),(3.9,4.05),(4.15,3.95),(.85,3.4),(1.1,3.5),(1.4,3.4),(1.65,3.55),(1.9,3.4),(2.15,3.5),(2.45,3.4),(2.7,3.5),(3.0,3.55),(3.25,3.4),(3.55,3.5),(3.8,3.55),(4.0,3.4),(4.3,3.35),
(.6,3.05),(.9,3.1),(1.15,2.95),(1.4,3.1),(1.65,3.0),(1.9,3.05),(2.2,2.95),(2.45,3.1),(2.7,3.05),(2.95,3.1),(3.2,3.0),(3.45,3.15),(3.7,3.0),(3.95,3.1),(4.25,3.0),(.65,2.7),(.9,2.75),(1.15,2.6),(1.4,2.7),(1.7,2.65),(1.95,2.75),(2.2,2.6),(2.5,2.7),(2.75,2.6),(3.0,2.7),(3.25,2.6),(3.5,2.75),(3.75,2.6),(4.0,2.7),(4.3,2.55),
(.45,2.35),(.7,2.3),(.95,2.4),(1.2,2.3),(1.45,2.4),(1.7,2.25),(1.95,2.35),(2.2,2.25),(2.45,2.35),(2.7,2.2),(2.95,2.3),(3.2,2.2),(3.5,2.3),(3.7,2.2),(4.0,2.3),(.6,1.95),(.8,2.05),(1.05,1.95),(1.3,2.05),(1.55,1.95),(1.8,2.0),(2.05,1.9),(2.3,2.0),(2.6,1.85),(2.85,1.95),(3.1,1.9),
(.3,1.65),(.55,1.7),(.8,1.6),(1.05,1.7),(1.3,1.6),(1.55,1.7),(1.85,1.6),(2.15,1.65),(2.45,1.55),(2.8,1.6),(3.05,1.55),(.2,1.35),(.45,1.4),(.7,1.3),(.95,1.4),(1.2,1.35),(1.45,1.3),(1.75,1.35),(2.05,1.4),(2.35,1.3),(.1,1.05),(.3,1.1),(.55,1.0),(.8,1.1),(1.05,1.0),(1.3,1.05),(1.55,.95),(1.9,1.05),(.15,.8),(.35,.85),(.55,.75),(.75,.85),(.95,.75),(1.2,.75),(1.4,.7),(.05,.55),(.25,.6),(.45,.55),(.65,.6),(.85,.5),(1.05,.5),(.1,.3),(.3,.35),(.5,.3),(.7,.3),(.9,.3),(.1,.1),(.3,.15),(.5,.12)]
nh4_jul_core = [(.2,.45),(.4,.4),(.6,.45),(.8,.4),(.2,.2),(.4,.22),(.65,.15),(.15,.68),(.35,.7),(.55,.65),(.75,.7),(.95,.62),(1.15,.6),(.25,.95),(.45,.9),(.65,.95),(.85,.95),(1.05,.85),(1.3,.85),(1.6,.8),(.2,1.2),(.4,1.2),(.6,1.15),(.85,1.25),(1.1,1.2),(1.35,1.2),(1.6,1.15),(.3,1.45),(.55,1.5),(.8,1.45),(1.1,1.5),(1.35,1.5),(1.65,1.5),(1.95,1.5),(2.25,1.5),(.4,1.8),(.65,1.85),(.95,1.8),(1.2,1.8),(1.45,1.85),(1.7,1.8),(1.95,1.75),(2.2,1.8),(2.5,1.75),(.5,2.15),(.8,2.2),(1.1,2.15),(1.35,2.2),(1.6,2.1),(1.85,2.2),(2.1,2.1),(2.35,2.15),(2.6,2.1),(3.0,2.15),(.55,2.55),(.8,2.5),(1.05,2.5),(1.3,2.55),(1.55,2.55),(1.8,2.5),(2.05,2.55),(2.35,2.5),(2.6,2.5),(2.9,2.5),(3.15,2.45),(.75,2.9),(1.0,2.85),(1.25,2.85),(1.5,2.9),(1.8,2.85),(2.05,2.9),(2.35,2.85),(2.6,2.9),(2.85,2.85),(3.1,2.85),(3.4,2.9),(3.9,2.9),(1.0,3.3),(1.25,3.25),(1.55,3.25),(1.8,3.2),(2.05,3.3),(2.35,3.25),(2.6,3.25),(2.9,3.3),(3.15,3.25),(3.6,3.25),(1.3,3.6),(1.8,3.65),(2.3,3.6),(2.6,3.65),(2.9,3.7),(3.4,3.7)]

panels = [[nit_jan + nit_jan_core, so4_jan + so4_jan_core, nh4_jan + nh4_jan_core],
          [nit_jul + nit_jul_core, so4_jul + so4_jul_core, nh4_jul + nh4_jul_core]]

W, H = 1148, 805
fig = plt.figure(figsize=(W/100, H/100), dpi=100)
lefts = [112, 474, 836]
tops = [90, 446]
for r in range(2):
    for c in range(3):
        ax = fig.add_axes([lefts[c]/W, 1-(tops[r]+296.5)/H, 297/W, 296.5/H])
        lim = limits[r][c]
        ax.plot([0, lim], [0, lim], color='#aaaaaa', lw=2, dashes=(6.1, 5.3), zorder=3)
        d = np.array(panels[r][c])
        ax.scatter(d[:, 0], d[:, 1], s=11, color='black', lw=0, zorder=2)
        ax.set_xlim(0, lim)
        ax.set_ylim(0, lim)
        ticks = np.arange(0, lim+1, steps[r][c])
        ax.set_xticks(ticks)
        ax.set_yticks(ticks)
        ax.tick_params(axis='x', direction='in', length=8, width=1.2, color='#333333', labelsize=17, pad=9)
        ax.tick_params(axis='y', direction='in', length=8, width=1.2, color='#333333', labelsize=17, pad=9)
        ax.spines['top'].set_visible(False)
        ax.spines['right'].set_visible(False)
        ax.spines['left'].set_color('#333333')
        ax.spines['bottom'].set_color('#333333')
        ax.spines['left'].set_linewidth(1.2)
        ax.spines['bottom'].set_linewidth(1.2)
        if r == 0:
            ax.set_title(species[c], fontsize=18.5, pad=13)

fig.text(580/W, 1-24/H, 'Comparison against Chemical Speciation Network', fontsize=22.9, ha='center', va='center')
fig.text(21/W, 1-234/H, months[0], fontsize=18.5, rotation=90, ha='center', va='center')
fig.text(21/W, 1-590/H, months[1], fontsize=18.5, rotation=90, ha='center', va='center')
fig.text(50/W, 1-416/H, 'Model, µg m⁻³', fontsize=18.5, rotation=90, ha='center', va='center')
fig.text(621/W, 1-790/H, 'Measurements, µg m⁻³', fontsize=18.5, ha='center', va='center')
plt.savefig('out.png', dpi=100)
